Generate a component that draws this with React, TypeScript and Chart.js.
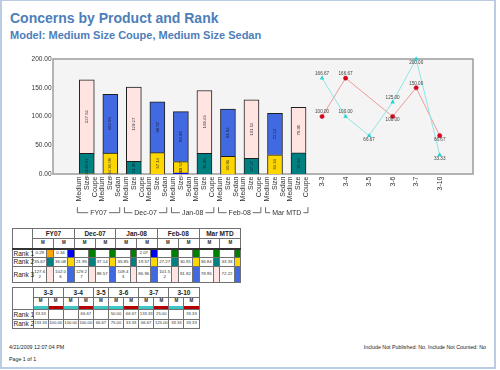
import React, { useEffect, useRef } from 'react';
import { Chart, registerables } from 'chart.js';

Chart.register(...registerables);

// ---------- data ----------
const periods = ['FY07', 'Dec-07', 'Jan-08', 'Feb-08', 'Mar MTD'];
const models = ['Medium Size Coupe', 'Medium Size Sedan'];
const barPeriods = ['FY07', 'FY07', 'Dec-07', 'Dec-07', 'Jan-08', 'Jan-08', 'Feb-08', 'Feb-08', 'Mar MTD', 'Mar MTD'];
const barModels = [
  'Medium Size Coupe', 'Medium Size Sedan',
  'Medium Size Coupe', 'Medium Size Sedan',
  'Medium Size Sedan', 'Medium Size Coupe',
  'Medium Size Sedan', 'Medium Size Coupe',
  'Medium Size Sedan', 'Medium Size Coupe',
];
const rank1Values: (number | null)[] = [0.29, 0.34, null, null, 2.07, null, null, null, null, null];
const rank2Values: (number | null)[] = [35.67, 36.08, 21.95, 37.14, 19.57, 35.85, 30.91, 27.27, 33.33, 36.84];
const rank3Values: (number | null)[] = [127.62, 102.06, 129.27, 88.57, 86.96, 109.43, 81.82, 101.52, 72.22, 78.95];
const rankNames = ['Rank 1', 'Rank 2', 'Rank 3'];

const weekLabels = ['3-3', '3-4', '3-5', '3-6', '3-7', '3-10'];
const coupeWeekTotals: (number | null)[] = [166.67, 100.0, 66.67, 125.0, 200.0, 33.33];
const sedanWeekTotals: (number | null)[] = [100.0, 166.67, null, 100.0, 150.0, 66.67];
const coupeWeekRank1: (number | null)[] = [33.33, null, null, 50.0, 133.33, null];
const coupeWeekRank2: (number | null)[] = [133.33, 100.0, 66.67, 75.0, 66.67, 33.33];
const sedanWeekRank1: (number | null)[] = [null, 66.67, null, 66.67, 25.0, 33.33];
const sedanWeekRank2: (number | null)[] = [100.0, 100.0, null, 33.33, 125.0, 33.33];

const yTickValues = [0, 50, 100, 150, 200];

// label placement (style only)
const coupeLabelSide = ['up', 'up', 'down', 'up', 'down', 'down'];
const sedanLabelSide = ['up', 'up', '', 'down', 'up', 'down'];

// ---------- styles ----------
const FONT = "'Liberation Sans', Arial, sans-serif";
const rankColors: Record<string, string>[] = [
  { 'Medium Size Coupe': '#FFA500', 'Medium Size Sedan': '#0000F0' },
  { 'Medium Size Coupe': '#008080', 'Medium Size Sedan': '#FFD700' },
  { 'Medium Size Coupe': '#FFE4E1', 'Medium Size Sedan': '#4169E1' },
];
const emptyRank1Color = '#008000';
const coupeLine = '#8FE6E6';
const coupePoint = '#22D3D3';
const sedanLine = '#F09A9A';
const sedanPoint = '#E0001A';
const coupeStripe = '#3CC6C6';
const sedanStripe = '#B80000';

const plotFrame = {
  id: 'plotFrame',
  beforeDraw(chart: any) {
    const { ctx, chartArea: a } = chart;
    ctx.save();
    ctx.fillStyle = '#F4F4F4';
    ctx.fillRect(a.left, a.top, a.right - a.left, a.bottom - a.top);
    ctx.restore();
  },
  beforeDatasetsDraw(chart: any) {
    const { ctx, chartArea: a } = chart;
    ctx.save();
    ctx.strokeStyle = '#9C9C9C';
    ctx.lineWidth = 1.5;
    ctx.strokeRect(a.left, a.top, a.right - a.left, a.bottom - a.top);
    ctx.restore();
  },
};

const valueLabels = {
  id: 'valueLabels',
  afterDatasetsDraw(chart: any) {
    const { ctx } = chart;
    ctx.save();
    // bar segment labels
    for (let d = 0; d < 3; d++) {
      const meta = chart.getDatasetMeta(d);
      const ds = chart.data.datasets[d];
      meta.data.forEach((el: any, i: number) => {
        const v = ds.data[i].y;
        if (v == null) return;
        const cy = (el.y + el.base) / 2;
        ctx.save();
        ctx.translate(el.x, cy);
        ctx.rotate(-Math.PI / 2);
        ctx.font = `4.3px ${FONT}`;
        ctx.fillStyle = 'rgba(20,20,40,0.85)';
        ctx.textAlign = 'center';
        ctx.textBaseline = 'middle';
        ctx.fillText(v.toFixed(2), 0, 0);
        ctx.restore();
      });
    }
    // line point labels
    [3, 4].forEach((d) => {
      const meta = chart.getDatasetMeta(d);
      const ds = chart.data.datasets[d];
      const sides = d === 3 ? coupeLabelSide : sedanLabelSide;
      meta.data.forEach((el: any, i: number) => {
        const v = ds.data[i].y;
        if (v == null) return;
        ctx.font = `4.6px ${FONT}`;
        ctx.fillStyle = '#444';
        ctx.textAlign = 'center';
        ctx.textBaseline = 'middle';
        const dy = sides[i] === 'down' ? 3.6 : -4.4;
        ctx.fillText(v.toFixed(2), el.x, el.y + dy);
      });
    });
    ctx.restore();
  },
};

const xLabels = {
  id: 'xLabels',
  afterDraw(chart: any) {
    const { ctx, chartArea: a } = chart;
    const xs = chart.scales.x;
    const all = [...barModels, ...weekLabels];
    ctx.save();
    ctx.fillStyle = '#333';
    ctx.font = `7px ${FONT}`;
    ctx.textAlign = 'right';
    ctx.textBaseline = 'middle';
    const lh = 8;
    all.forEach((lab, i) => {
      const px = xs.getPixelForValue(i);
      const lines = i < barModels.length ? lab.split(' ') : [lab];
      lines.forEach((ln, j) => {
        const x = px + (j - (lines.length - 1) / 2) * lh;
        ctx.save();
        ctx.translate(x, a.bottom + 2.5);
        ctx.rotate(-Math.PI / 2);
        ctx.fillText(ln, 0, 0);
        ctx.restore();
      });
    });
    // group brackets
    const yT = a.bottom + 38.7;
    ctx.strokeStyle = '#444';
    ctx.lineWidth = 0.8;
    ctx.textAlign = 'center';
    periods.forEach((p) => {
      const idx = barPeriods.map((bp, i) => (bp === p ? i : -1)).filter((i) => i >= 0);
      const x0 = xs.getPixelForValue(Math.min(...idx) - 0.4);
      const x1 = xs.getPixelForValue(Math.max(...idx) + 0.4);
      const cx = (x0 + x1) / 2;
      const tw = ctx.measureText(p).width;
      ctx.beginPath();
      ctx.moveTo(x0, yT - 5.5);
      ctx.lineTo(x0, yT);
      ctx.lineTo(cx - tw / 2 - 2, yT);
      ctx.moveTo(cx + tw / 2 + 2, yT);
      ctx.lineTo(x1, yT);
      ctx.lineTo(x1, yT - 5.5);
      ctx.stroke();
      ctx.fillText(p, cx, yT);
    });
    ctx.restore();
  },
};

function ChartBox() {
  const ref = useRef<HTMLCanvasElement | null>(null);
  useEffect(() => {
    if (!ref.current) return;
    const rankArrays = [rank1Values, rank2Values, rank3Values];
    const n = barModels.length;
    const datasets: any[] = rankArrays.map((arr, r) => ({
      type: 'bar',
      label: rankNames[r],
      data: arr.map((v, i) => ({ x: i, y: v })),
      backgroundColor: barModels.map((m) => rankColors[r][m]),
      borderColor: '#1E1E1E',
      borderWidth: 1,
      barThickness: 15,
      stack: 'bars',
    }));
    datasets.push({
      type: 'line',
      label: 'Medium Size Coupe',
      data: coupeWeekTotals.map((v, i) => ({ x: n + i, y: v })),
      stack: 'coupeLine',
      borderColor: coupeLine,
      borderWidth: 1,
      pointStyle: 'triangle',
      pointRadius: 2.6,
      pointBackgroundColor: coupePoint,
      pointBorderColor: coupePoint,
      pointBorderWidth: 0,
      spanGaps: true,
      clip: false,
    });
    datasets.push({
      type: 'line',
      label: 'Medium Size Sedan',
      data: sedanWeekTotals.map((v, i) => ({ x: n + i, y: v })),
      stack: 'sedanLine',
      borderColor: sedanLine,
      borderWidth: 1,
      pointStyle: 'circle',
      pointRadius: 2.1,
      pointBackgroundColor: sedanPoint,
      pointBorderColor: '#B00010',
      pointBorderWidth: 0.5,
      spanGaps: true,
      clip: false,
    });
    const chart = new Chart(ref.current, {
      type: 'bar',
      data: { datasets },
      options: {
        animation: false,
        responsive: false,
        events: [],
        layout: { padding: { left: 0, right: 7, top: 9, bottom: 0 } },
        plugins: { legend: { display: false }, tooltip: { enabled: false } },
        scales: {
          x: {
            type: 'linear',
            min: -0.32,
            max: n + weekLabels.length - 1 + 0.3,
            grid: { display: false },
            border: { display: false },
            ticks: { display: false },
            afterFit: (s: any) => {
              s.height = 51;
            },
          },
          y: {
            stacked: true,
            min: 0,
            max: 200,
            grid: { display: false, drawTicks: false },
            border: { display: false },
            afterBuildTicks: (s: any) => {
              s.ticks = yTickValues.map((v) => ({ value: v }));
            },
            ticks: {
              padding: 1.5,
              color: '#333',
              font: { family: 'Liberation Sans', size: 6.5 },
              callback: (v: any) => Number(v).toFixed(2),
            },
            afterFit: (s: any) => {
              s.width = 53;
            },
          },
        },
      } as any,
      plugins: [plotFrame, valueLabels, xLabels],
    });
    return () => chart.destroy();
  }, []);
  return (
    <div style={{ position: 'absolute', left: 0, top: 50, width: 480, height: 175 }}>
      <canvas ref={ref} width={480} height={175} style={{ display: 'block' }} />
    </div>
  );
}

const bd = '1px solid #707070';
const tdBase: React.CSSProperties = {
  border: bd,
  padding: 0,
  textAlign: 'center',
  verticalAlign: 'middle',
};

function Table1() {
  const cols = periods.flatMap((p) =>
    models.map((m) => barPeriods.findIndex((bp, i) => bp === p && barModels[i] === m))
  );
  const rankArrays = [rank1Values, rank2Values, rank3Values];
  return (
    <table
      style={{
        position: 'absolute', left: 11.5, top: 228, borderCollapse: 'collapse', tableLayout: 'fixed',
        width: 228.6, fontFamily: FONT, color: '#222', border: '1px solid #444', lineHeight: 1.1,
      }}
    >
      <colgroup>
        <col style={{ width: 20.6 }} />
        {cols.flatMap((c, k) => [
          <col key={'v' + k} style={{ width: 14.3 }} />,
          <col key={'s' + k} style={{ width: 6.5 }} />,
        ])}
      </colgroup>
      <tbody>
        <tr style={{ height: 10 }}>
          <td rowSpan={2} style={tdBase}></td>
          {periods.map((p) => (
            <td key={p} colSpan={4} style={{ ...tdBase, fontWeight: 'bold', fontSize: 6.5 }}>{p}</td>
          ))}
        </tr>
        <tr style={{ height: 10 }}>
          {cols.map((c, k) => (
            <td key={k} colSpan={2} style={{ ...tdBase, fontWeight: 'bold', fontSize: 4.5 }}>M</td>
          ))}
        </tr>
        {rankArrays.map((arr, r) => {
          const top = r === 0 ? '2px solid #333' : bd;
          return (
            <tr key={r} style={{ height: r === 2 ? 16 : 9 }}>
              <td style={{ ...tdBase, borderTop: top, textAlign: 'left', fontSize: 6.5, whiteSpace: 'nowrap', paddingLeft: 1 }}>
                {rankNames[r]}
              </td>
              {cols.flatMap((c, k) => {
                const v = arr[c];
                const color = v == null ? emptyRank1Color : rankColors[r][barModels[c]];
                return [
                  <td key={'v' + k} style={{ ...tdBase, borderTop: top, fontSize: 4.4, wordBreak: 'break-all', padding: '0 1px', color: '#333' }}>
                    {v == null ? '' : v.toFixed(2)}
                  </td>,
                  <td key={'s' + k} style={{ ...tdBase, borderTop: top, background: color }}></td>,
                ];
              })}
            </tr>
          );
        })}
      </tbody>
    </table>
  );
}

function Table2() {
  const groups = weekLabels.map((w, i) => {
    const series: { color: string; r1: number | null; r2: number | null }[] = [];
    if (coupeWeekRank1[i] != null || coupeWeekRank2[i] != null)
      series.push({ color: coupeStripe, r1: coupeWeekRank1[i], r2: coupeWeekRank2[i] });
    if (sedanWeekRank1[i] != null || sedanWeekRank2[i] != null)
      series.push({ color: sedanStripe, r1: sedanWeekRank1[i], r2: sedanWeekRank2[i] });
    return { w, series };
  });
  const cells = groups.flatMap((g) => g.series);
  const colW = 15.1;
  return (
    <table
      style={{
        position: 'absolute', left: 11.5, top: 287, borderCollapse: 'collapse', tableLayout: 'fixed',
        width: 21 + cells.length * colW, fontFamily: FONT, color: '#222', border: '1px solid #444', lineHeight: 1.1,
      }}
    >
      <colgroup>
        <col style={{ width: 21 }} />
        {cells.map((c, k) => <col key={k} style={{ width: colW }} />)}
      </colgroup>
      <tbody>
        <tr style={{ height: 10 }}>
          <td rowSpan={3} style={tdBase}></td>
          {groups.map((g) => (
            <td key={g.w} colSpan={g.series.length} style={{ ...tdBase, fontWeight: 'bold', fontSize: 6.5 }}>{g.w}</td>
          ))}
        </tr>
        <tr style={{ height: 8 }}>
          {cells.map((c, k) => (
            <td key={k} style={{ ...tdBase, fontWeight: 'bold', fontSize: 4.5, borderBottom: 'none' }}>M</td>
          ))}
        </tr>
        <tr style={{ height: 4 }}>
          {cells.map((c, k) => (
            <td key={k} style={{ ...tdBase, background: c.color, borderTop: 'none', fontSize: 1 }}></td>
          ))}
        </tr>
        {[0, 1].map((r) => (
          <tr key={r} style={{ height: 9.5 }}>
            <td style={{ ...tdBase, textAlign: 'left', fontSize: 6.5, whiteSpace: 'nowrap', paddingLeft: 1 }}>{rankNames[r]}</td>
            {cells.map((c, k) => {
              const v = r === 0 ? c.r1 : c.r2;
              return (
                <td key={k} style={{ ...tdBase, fontSize: 4.2, color: '#333' }}>{v == null ? '' : v.toFixed(2)}</td>
              );
            })}
          </tr>
        ))}
      </tbody>
    </table>
  );
}

export default function App() {
  return (
    <div
      style={{
        position: 'absolute', left: 0, top: 0, width: 500, height: 370, background: '#fff',
        overflow: 'hidden', fontFamily: FONT,
      }}
    >
      <div
        style={{
          position: 'absolute', left: 0, top: 0, width: 492, height: 366,
          border: '2px solid #B9CCE4', borderTopWidth: 1,
        }}
      />
      <div
        style={{
          position: 'absolute', left: 10, top: 10.5, fontSize: 14, lineHeight: '14px', fontWeight: 'bold',
          color: '#4D7EBA', whiteSpace: 'nowrap',
        }}
      >
        Concerns by Product and Rank
      </div>
      <div
        style={{
          position: 'absolute', left: 10, top: 30, fontSize: 11, lineHeight: '11px', fontWeight: 'bold',
          color: '#4D7EBA', whiteSpace: 'nowrap',
        }}
      >
        Model: Medium Size Coupe, Medium Size Sedan
      </div>
      <ChartBox />
      <Table1 />
      <Table2 />
      <div style={{ position: 'absolute', left: 9, top: 344, fontSize: 5.3, lineHeight: '6px', color: '#222', whiteSpace: 'nowrap' }}>
        4/21/2009 12:07:04 PM
      </div>
      <div style={{ position: 'absolute', left: 9, top: 356, fontSize: 5.3, lineHeight: '6px', color: '#222', whiteSpace: 'nowrap' }}>
        Page 1 of 1
      </div>
      <div style={{ position: 'absolute', right: 14, top: 344, fontSize: 5.3, lineHeight: '6px', color: '#222', whiteSpace: 'nowrap' }}>
        Include Not Published: No, Include Not Counted: No
      </div>
    </div>
  );
}
